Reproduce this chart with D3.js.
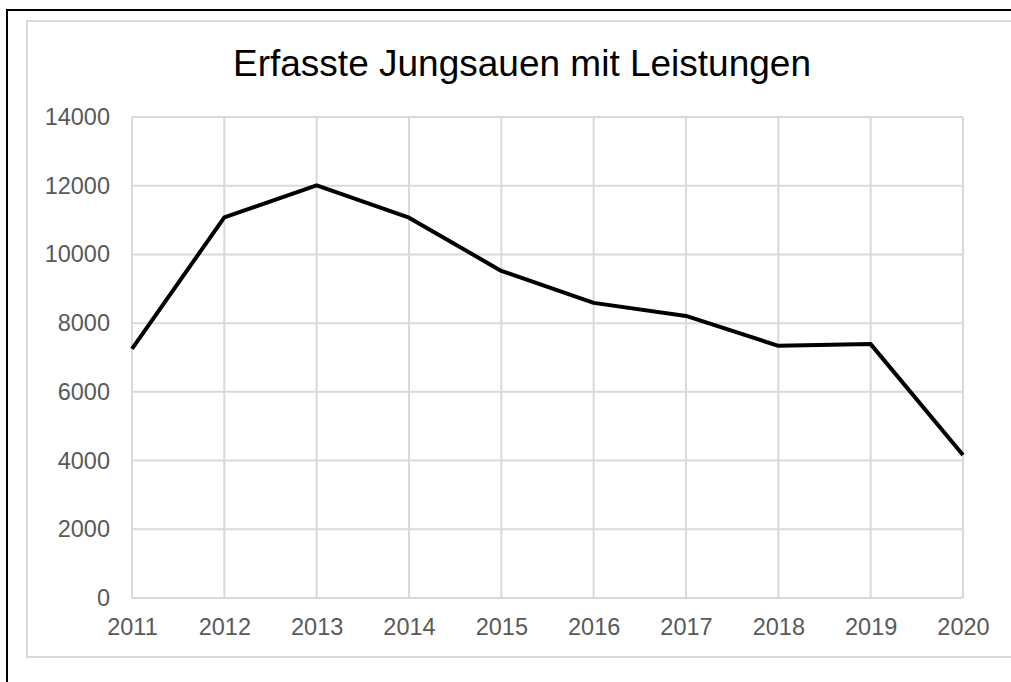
<!DOCTYPE html>
<html>
<head>
<meta charset="utf-8">
<script src="https://cdn.jsdelivr.net/npm/d3@7"></script>
<style>
  body { margin: 0; background: #fff; }
  svg { display: block; font-family: "Liberation Sans", Arial, sans-serif; }
</style>
</head>
<body>
<svg id="chart" width="1011" height="682"></svg>
<script>
// data
var years = [2011, 2012, 2013, 2014, 2015, 2016, 2017, 2018, 2019, 2020]
var sows = [7250, 11080, 12010, 11070, 9520, 8590, 8210, 7340, 7390, 4160]
var yTicks = [0, 2000, 4000, 6000, 8000, 10000, 12000, 14000]
var title = "Erfasste Jungsauen mit Leistungen"

var svg = d3.select("#chart")

// outer frame (black) and chart area frame (light grey), both running off the page
svg.append("rect")
  .attr("x", 7).attr("y", 10).attr("width", 1100).attr("height", 800)
  .attr("fill", "none").attr("stroke", "#000").attr("stroke-width", 2)
svg.append("rect")
  .attr("x", 27).attr("y", 21).attr("width", 1100).attr("height", 636)
  .attr("fill", "none").attr("stroke", "#d9d9d9").attr("stroke-width", 2)

var plot = {left: 132, right: 963, top: 117, bottom: 598}

var x = d3.scalePoint()
  .domain(years)
  .range([plot.left, plot.right])

var y = d3.scaleLinear()
  .domain([0, 14000])
  .range([plot.bottom, plot.top])

// grid
svg.append("g").selectAll("line.h")
  .data(yTicks).enter().append("line")
  .attr("x1", plot.left).attr("x2", plot.right)
  .attr("y1", d => y(d)).attr("y2", d => y(d))
  .attr("stroke", "#d9d9d9").attr("stroke-width", 2)

svg.append("g").selectAll("line.v")
  .data(years).enter().append("line")
  .attr("x1", d => x(d)).attr("x2", d => x(d))
  .attr("y1", plot.top).attr("y2", plot.bottom)
  .attr("stroke", "#d9d9d9").attr("stroke-width", 2)

// axes (labels only, lines come from the grid)
var yAxis = svg.append("g")
  .attr("transform", "translate(" + (plot.left - 22) + ",0)")
  .call(d3.axisLeft(y).tickValues(yTicks).tickSize(0).tickPadding(0).tickFormat(d3.format("d")))
yAxis.select(".domain").remove()
yAxis.selectAll("text")
  .attr("fill", "#595959").attr("font-size", "23.5px")
  .attr("font-family", "'Liberation Sans', Arial, sans-serif")

var xAxis = svg.append("g")
  .attr("transform", "translate(0," + plot.bottom + ")")
  .call(d3.axisBottom(x).tickSize(0).tickPadding(20).tickFormat(d3.format("d")))
xAxis.select(".domain").remove()
xAxis.selectAll("text")
  .attr("fill", "#595959").attr("font-size", "23.5px")
  .attr("font-family", "'Liberation Sans', Arial, sans-serif")

// series line
var line = d3.line()
  .x((d, i) => x(years[i]))
  .y(d => y(d))

svg.append("path")
  .datum(sows)
  .attr("d", line)
  .attr("fill", "none")
  .attr("stroke", "#000")
  .attr("stroke-width", 4)
  .attr("stroke-linejoin", "round")

// title
svg.append("text")
  .attr("x", 522).attr("y", 76)
  .attr("text-anchor", "middle")
  .attr("font-size", "37px")
  .attr("fill", "#000")
  .text(title)
</script>
</body>
</html>
